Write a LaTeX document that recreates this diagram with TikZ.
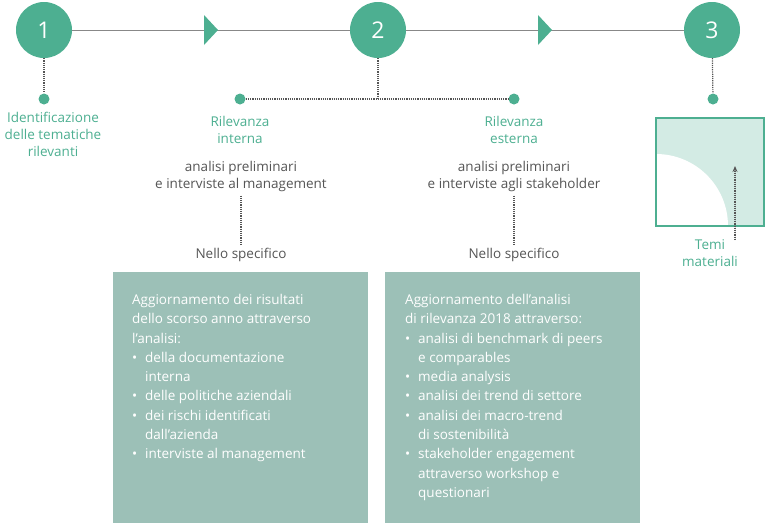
\documentclass[tikz,border=0pt]{standalone}
\usepackage{fontspec}
\setmainfont{Open Sans}
\usetikzlibrary{positioning}
\usetikzlibrary{arrows.meta}
\definecolor{vgreen}{HTML}{4DAF91}
\definecolor{vbox}{HTML}{9CC0B7}
\definecolor{vlight}{HTML}{D3EBE4}
\definecolor{vgray}{HTML}{555555}
\newcommand{\bul}{\makebox[13pt][l]{•}}
\newcommand{\ind}{\hspace*{13pt}}
\tikzset{step circle/.style={circle,fill=vgreen,minimum size=56pt,inner sep=0pt,
                             text=white,font=\fontsize{23}{23}\selectfont}}
\tikzset{step dot/.style={circle,fill=vgreen,minimum size=11pt,inner sep=0pt}}
\tikzset{dots/.style={draw=vgray,densely dotted,line width=1.2pt}}
\tikzset{green label/.style={text=vgreen,align=center,font=\fontsize{13.5}{17}\selectfont}}
\tikzset{gray label/.style={text=vgray,align=center,font=\fontsize{13.5}{17}\selectfont}}
\tikzset{detail box/.style={text=white,anchor=north west,align=left,
                            inner sep=0pt,font=\fontsize{13.5}{19.3}\selectfont}}
\begin{document}
\begin{tikzpicture}[x=1pt,y=-1pt]
      \useasboundingbox (0,0) rectangle (765,523);

      % steps
      \draw [vgray!70,line width=1pt] (44,30) -- (712,30);
      \foreach \i/\x in {1/44,2/378,3/712}
      {
      \node [step circle] (S\i) at (\x,30) {\i};
      }
      \foreach \x in {204,538}
      {
      \fill [vgreen] (\x,15) -- (\x+14,30) -- (\x,45) -- cycle;
      }

      % dots
      \node [step dot] (D1) at (44,99) {};
      \node [step dot] (D2) at (240,99) {};
      \node [step dot] (D3) at (514,99) {};
      \node [step dot] (D4) at (713,99) {};
      \coordinate (J) at (378,99);
      \draw [dots] (S1) -- (D1);
      \draw [dots] (S3) -- (D4);
      \draw [dots] (S2) -- (J);
      \draw [dots] (D2) -- (D3);

      % labels
      \node [green label,anchor=north] (L1) at (53,109) {Identificazione\\delle tematiche\\rilevanti};
      \node [green label,anchor=north] (L2) at (240,113) {Rilevanza\\interna};
      \node [green label,anchor=north] (L3) at (514,113) {Rilevanza\\esterna};
      \node [gray label,anchor=north] (A2) at (241,158) {analisi preliminari\\e interviste al management};
      \node [gray label,anchor=north] (A3) at (514,158) {analisi preliminari\\e interviste agli stakeholder};
      \node [gray label] (N2) at (241,255) {Nello specifico};
      \node [gray label] (N3) at (514,255) {Nello specifico};
      \draw [dots] (A2.south) -- (N2.north);
      \draw [dots] (A3.south) -- (N3.north);

      % boxes
      \fill [vbox] (113,272) rectangle (368,523);
      \fill [vbox] (385,272) rectangle (640,523);
      \node [detail box] (B2) at (132,294) {Aggiornamento dei risultati\\
      dello scorso anno attraverso\\l'analisi:\\
      \bul della documentazione\\\ind interna\\
      \bul delle politiche aziendali\\
      \bul dei rischi identificati\\\ind dall'azienda\\
      \bul interviste al management};
      \node [detail box] (B3) at (405,294) {Aggiornamento dell'analisi\\
      di rilevanza 2018 attraverso:\\
      \bul analisi di benchmark di peers\\\ind e comparables\\
      \bul media analysis\\
      \bul analisi dei trend di settore\\
      \bul analisi dei macro-trend\\\ind di sostenibilità\\
      \bul stakeholder engagement\\\ind attraverso workshop e\\\ind questionari};

      % material topics
      \fill [vlight] (656,118) rectangle (764,226);
      \fill [white] (656,154) arc (-90:0:72) -- (656,226) -- cycle;
      \draw [vgreen,line width=2.5pt] (656,118) rectangle (764,226);
      \node [green label,anchor=north] (T) at (710,236) {Temi\\materiali};
      \coordinate (P) at (735,240);
      \coordinate (Q) at (735,166);
      \draw [dots,-{Stealth[length=6pt,width=5pt]},fill=vgray] (P) -- (Q);
\end{tikzpicture}
\end{document}
